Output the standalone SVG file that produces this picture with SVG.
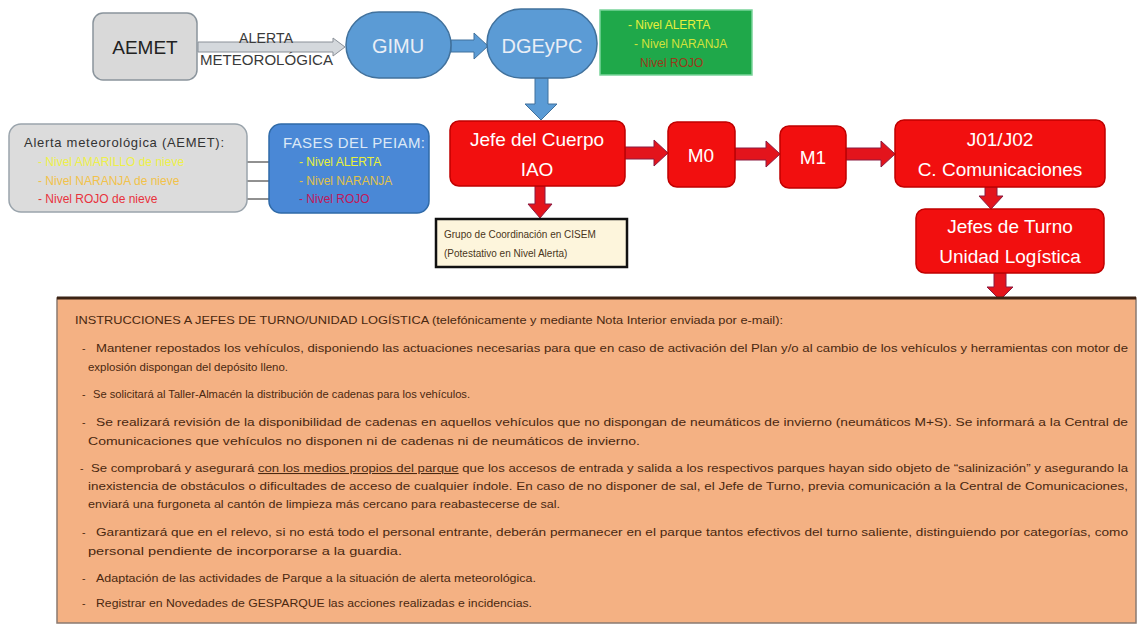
<svg xmlns="http://www.w3.org/2000/svg" width="1137" height="626" viewBox="0 0 1137 626">
<defs>
<style>
text{font-family:"Liberation Sans",Arial,sans-serif}
.red{fill:#f20f0f;stroke:#c00000;stroke-width:1.5}
.rt{fill:#ffffff;font-size:19px;text-anchor:middle}
.blue{fill:#5b9bd5;stroke:#41719c;stroke-width:1.5}
.bt{fill:#e9eef6;font-size:20px;text-anchor:middle}
.rarrow{fill:#e3141c;stroke:#8a1a40;stroke-width:1}
.barrow{fill:#5b9bd5;stroke:#41719c;stroke-width:1}
.ot{fill:#4a2810;font-size:10.5px}
.conn{stroke:#222;stroke-width:1;fill:none}
</style>
<marker id="ah" viewBox="0 0 10 10" refX="9" refY="5" markerWidth="7" markerHeight="7" orient="auto">
<path d="M0,0 L10,5 L0,10 z" fill="#111"/>
</marker>
</defs>
<rect width="1137" height="626" fill="#ffffff"/>

<g id="connectors">
<polygon points="198,42 333,42 333,38 345,47 333,56 333,52 198,52" fill="#d4d8dc" stroke="#8a9098" stroke-width="1"/>
<polygon class="barrow" points="451,40 474,40 474,33 488,46 474,59 474,52 451,52"/>
<polygon class="barrow" points="535,78 548,78 548,104 557,104 541,120 525,104 535,104"/>
<polygon class="rarrow" points="625,147 654,147 654,140 668,153 654,166 654,159 625,159"/>
<polygon class="rarrow" points="735,148 766,148 766,141 780,154 766,167 766,160 735,160"/>
<polygon class="rarrow" points="846,148 881,148 881,141 895,154 881,167 881,160 846,160"/>
<polygon class="rarrow" points="535,186 545,186 545,204 552,204 540,218 528,204 535,204"/>
<polygon class="rarrow" points="985,187 997,187 997,196 1003,196 991,209 979,196 985,196"/>
<polygon class="rarrow" points="994,273 1006,273 1006,287 1013,287 1000,300 987,287 994,287"/>
<line class="conn" x1="232" y1="162" x2="292" y2="162" marker-end="url(#ah)"/>
<line class="conn" x1="236" y1="181" x2="292" y2="181" marker-end="url(#ah)"/>
<line class="conn" x1="234" y1="199" x2="292" y2="199" marker-end="url(#ah)"/>
</g>

<g id="label-alerta">
<text x="266" y="43" font-size="14" fill="#3a3a3a" text-anchor="middle" textLength="54">ALERTA</text>
<text x="200" y="65" font-size="14" fill="#3a3a3a" textLength="133" lengthAdjust="spacingAndGlyphs">METEOROLÓGICA</text>
</g>

<g id="aemet">
<rect x="93" y="13" width="104" height="67" rx="10" fill="#d9d9d9" stroke="#8a949c" stroke-width="1.5"/>
<text x="145" y="54" font-size="19" fill="#222" text-anchor="middle">AEMET</text>
</g>

<g id="gimu">
<rect class="blue" x="346" y="12" width="105" height="66" rx="33"/>
<text class="bt" x="398" y="53">GIMU</text>
</g>

<g id="dgeypc">
<rect class="blue" x="487" y="9" width="110" height="69" rx="34"/>
<text class="bt" x="542" y="53">DGEyPC</text>
</g>

<g id="niveles-green">
<rect x="600" y="10" width="152" height="65" fill="#1fa84a" stroke="#7ad49a" stroke-width="1.5"/>
<text x="628" y="29" font-size="12" fill="#e6f03c">-  Nivel ALERTA</text>
<text x="634" y="48" font-size="12" fill="#d2e23a">-  Nivel NARANJA</text>
<text x="640" y="67" font-size="12" fill="#9a3a1a">Nivel ROJO</text>
</g>

<g id="alerta-aemet">
<rect x="9" y="124" width="238" height="88" rx="12" fill="#dcdcdc" stroke="#9aa4ac" stroke-width="1.5"/>
<text x="24" y="147" font-size="13" fill="#333" textLength="200">Alerta meteorológica (AEMET):</text>
<text x="38" y="166" font-size="12" fill="#eef04a">-  Nivel AMARILLO de nieve</text>
<text x="38" y="185" font-size="12" fill="#f2c24a">-  Nivel NARANJA de nieve</text>
<text x="38" y="203" font-size="12" fill="#e8323c">-  Nivel ROJO de nieve</text>
</g>

<g id="fases-peiam">
<rect x="269" y="124" width="160" height="89" rx="12" fill="#4a88d6" stroke="#2f6aa8" stroke-width="1.5"/>
<text x="283" y="148" font-size="15" fill="#dce8f6" textLength="142">FASES DEL PEIAM:</text>
<text x="299" y="166" font-size="12" fill="#e8f03a">-  Nivel ALERTA</text>
<text x="299" y="185" font-size="12" fill="#e0c24a">-  Nivel NARANJA</text>
<text x="299" y="203" font-size="12" fill="#c2185a">-  Nivel ROJO</text>
</g>

<g id="jefe-cuerpo">
<rect class="red" x="450" y="121" width="175" height="65" rx="9"/>
<text class="rt" x="537" y="146">Jefe del Cuerpo</text>
<text class="rt" x="537" y="176">IAO</text>
</g>

<g id="m0">
<rect class="red" x="668" y="122" width="67" height="65" rx="9"/>
<text class="rt" x="701" y="162">M0</text>
</g>

<g id="m1">
<rect class="red" x="780" y="126" width="66" height="62" rx="9"/>
<text class="rt" x="813" y="164">M1</text>
</g>

<g id="j01-j02">
<rect class="red" x="895" y="120" width="210" height="67" rx="9"/>
<text class="rt" x="1000" y="146" font-size="20">J01/J02</text>
<text class="rt" x="1000" y="176" font-size="20">C. Comunicaciones</text>
</g>

<g id="jefes-turno">
<rect class="red" x="916" y="209" width="188" height="64" rx="9"/>
<text class="rt" x="1010" y="233" font-size="20">Jefes de Turno</text>
<text class="rt" x="1010" y="263" font-size="20">Unidad Logística</text>
</g>

<g id="grupo-coordinacion">
<rect x="436" y="219" width="191" height="48" fill="#fdf5dc" stroke="#111" stroke-width="2.5"/>
<text x="444" y="238" font-size="10" fill="#4a3520">Grupo de Coordinación en CISEM</text>
<text x="444" y="257" font-size="10" fill="#4a3520">(Potestativo en Nivel Alerta)</text>
</g>

<g id="instrucciones">
<rect x="57" y="298" width="1079" height="325" fill="#f4b183" stroke="#8a7a70" stroke-width="1.5"/>
<line x1="57" y1="298" x2="1136" y2="298" stroke="#3b2314" stroke-width="3"/>
<text class="ot" x="75" y="324" textLength="708" lengthAdjust="spacingAndGlyphs">INSTRUCCIONES A JEFES DE TURNO/UNIDAD LOGÍSTICA (telefónicamente y mediante Nota Interior enviada por e-mail):</text>
<text class="ot" x="82" y="352">-</text>
<text class="ot" x="96" y="352" textLength="1032" lengthAdjust="spacingAndGlyphs">Mantener repostados los vehículos, disponiendo las actuaciones necesarias para que en caso de activación del Plan y/o al cambio de los vehículos y herramientas con motor de</text>
<text class="ot" x="88" y="371" textLength="200" lengthAdjust="spacingAndGlyphs">explosión dispongan del depósito lleno.</text>
<text class="ot" x="82" y="398">-</text>
<text class="ot" x="93" y="398" textLength="377" lengthAdjust="spacingAndGlyphs">Se solicitará al Taller-Almacén la distribución de cadenas para los vehículos.</text>
<text class="ot" x="82" y="426">-</text>
<text class="ot" x="96" y="426" textLength="1032" lengthAdjust="spacingAndGlyphs">Se realizará revisión de la disponibilidad de cadenas en aquellos vehículos que no dispongan de neumáticos de invierno (neumáticos M+S). Se informará a la Central de</text>
<text class="ot" x="88" y="445" textLength="552" lengthAdjust="spacingAndGlyphs">Comunicaciones que vehículos no disponen ni de cadenas ni de neumáticos de invierno.</text>
<text class="ot" x="80" y="472">-</text>
<text class="ot" x="91" y="472" textLength="1037" lengthAdjust="spacingAndGlyphs">Se comprobará y asegurará <tspan text-decoration="underline">con los medios propios del parque</tspan> que los accesos de entrada y salida a los respectivos parques hayan sido objeto de “salinización” y asegurando la</text>
<text class="ot" x="88" y="490" textLength="1040" lengthAdjust="spacingAndGlyphs">inexistencia de obstáculos o dificultades de acceso de cualquier índole. En caso de no disponer de sal, el Jefe de Turno, previa comunicación a la Central de Comunicaciones,</text>
<text class="ot" x="88" y="508" textLength="472" lengthAdjust="spacingAndGlyphs">enviará una furgoneta al cantón de limpieza más cercano para reabastecerse de sal.</text>
<text class="ot" x="82" y="536">-</text>
<text class="ot" x="96" y="536" textLength="1032" lengthAdjust="spacingAndGlyphs">Garantizará que en el relevo, si no está todo el personal entrante, deberán permanecer en el parque tantos efectivos del turno saliente, distinguiendo por categorías, como</text>
<text class="ot" x="88" y="555" textLength="314" lengthAdjust="spacingAndGlyphs">personal pendiente de incorporarse a la guardia.</text>
<text class="ot" x="82" y="582">-</text>
<text class="ot" x="96" y="582" textLength="440" lengthAdjust="spacingAndGlyphs">Adaptación de las actividades de Parque a la situación de alerta meteorológica.</text>
<text class="ot" x="82" y="607">-</text>
<text class="ot" x="96" y="607" textLength="436" lengthAdjust="spacingAndGlyphs">Registrar en Novedades de GESPARQUE las acciones realizadas e incidencias.</text>
</g>
</svg>
